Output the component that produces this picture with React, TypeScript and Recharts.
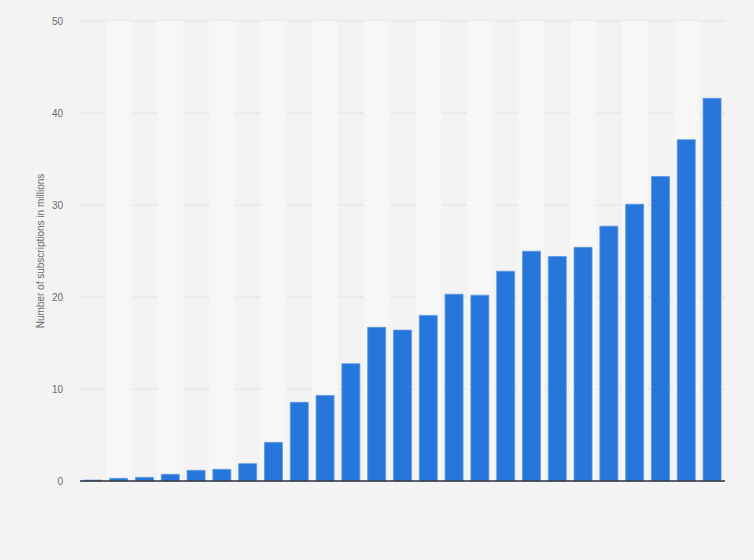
import React from "react";
import {
  BarChart,
  Bar,
  XAxis,
  YAxis,
  CartesianGrid,
  ReferenceArea,
  ReferenceLine,
} from "recharts";

const categories = [
  "1999", "2000", "2001", "2002", "2003", "2004", "2005", "2006", "2007",
  "2008", "2009", "2010", "2011", "2012", "2013", "2014", "2015", "2016",
  "2017", "2018", "2019", "2020", "2021", "2022", "2023",
];

const subscriptions = [
  0.1, 0.29, 0.4, 0.73, 1.16, 1.27, 1.88, 4.2, 8.55, 9.3, 12.75, 16.7, 16.4,
  18.0, 20.3, 20.2, 22.8, 24.97, 24.4, 25.4, 27.7, 30.08, 33.1, 37.1, 41.6,
];

const yTicks = [0, 10, 20, 30, 40, 50];

const data = categories.map((c, i) => ({ category: c, value: subscriptions[i] }));

const bandCategories = categories.filter((_, i) => i % 2 === 1);

export default function App() {
  return (
    <div
      style={{
        position: "absolute",
        left: 0,
        top: 0,
        width: 754,
        height: 560,
        background: "#f3f3f3",
        fontFamily: "'Liberation Sans', Arial, sans-serif",
      }}
    >
      <BarChart
        width={754}
        height={560}
        data={data}
        margin={{ top: 21, right: 29, bottom: 79, left: 0 }}
        barCategoryGap="15%"
      >
        {bandCategories.map((c) => (
          <ReferenceArea
            key={c}
            x1={c}
            x2={c}
            y1={0}
            y2={50}
            fill="#f7f7f7"
            fillOpacity={1}
            stroke="none"
          />
        ))}
        <CartesianGrid
          vertical={false}
          stroke="#d2d2d2"
          strokeDasharray="1 1"
        />
        <XAxis dataKey="category" hide />
        <YAxis
          width={80}
          domain={[0, 50]}
          ticks={yTicks}
          axisLine={false}
          tickLine={false}
          tickSize={0}
          tickMargin={17}
          tick={{ fill: "#6b6b6b", fontSize: 10 }}
          label={{
            value: "Number of subscriptions in millions",
            angle: -90,
            position: "insideLeft",
            offset: 40,
            textAnchor: "middle",
            fill: "#6b6b6b",
            fontSize: 10,
          }}
        />
        <Bar
          dataKey="value"
          fill="#2776dc"
          stroke="#5f98e5"
          strokeWidth={0.8}
          isAnimationActive={false}
        />
        <ReferenceLine y={0} stroke="#333333" strokeWidth={1.5} />
      </BarChart>
    </div>
  );
}
